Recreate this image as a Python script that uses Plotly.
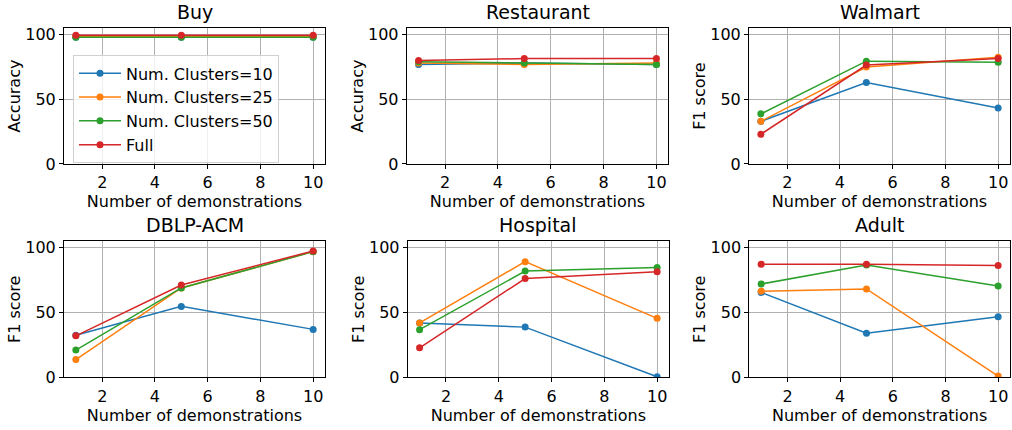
import plotly.graph_objects as go
from plotly.subplots import make_subplots

demos = [1, 5, 10]
series_names = ["Num. Clusters=10", "Num. Clusters=25", "Num. Clusters=50", "Full"]
colors = ["#1f77b4", "#ff7f0e", "#2ca02c", "#d62728"]

titles = ["Buy", "Restaurant", "Walmart", "DBLP-ACM", "Hospital", "Adult"]
ylabels = ["Accuracy", "Accuracy", "F1 score", "F1 score", "F1 score", "F1 score"]

buy = [[98, 98, 98], [98.5, 98.5, 98.5], [98, 98, 98], [99.5, 99.5, 99.5]]
restaurant = [[77, 78, 77], [78, 77, 78], [79, 78, 77], [80, 81.5, 81.5]]
walmart = [[33, 63, 43.25], [33, 75, 82.5], [38.75, 79.5, 78.75], [23, 76.5, 81.5]]
dblp = [[32.5, 54.75, 37], [13.75, 69, 97], [21, 69, 97], [32, 71.25, 97.5]]
hospital = [[42, 38.75, 0.5], [42, 89.25, 45.5], [36.75, 82, 84.75], [22.75, 76.25, 81.5]]
adult = [[65.5, 34, 46.75], [66.5, 68.25, 1], [72, 86.75, 70.5], [87.25, 87.25, 86.25]]
datasets = [buy, restaurant, walmart, dblp, hospital, adult]

W, H = 1012, 430
FONT = "DejaVu Sans"
FS = 16

fig = make_subplots(rows=2, cols=3)

# pixel boxes (left, right, top, bottom)
boxes = [
    (64, 325, 26, 166), (406.7, 668.3, 26, 166), (749, 1010, 26, 166),
    (64, 325, 245.7, 386), (407.7, 669, 245.7, 386), (749.3, 1010, 245.7, 386),
]

for i, data in enumerate(datasets):
    r, c = i // 3 + 1, i % 3 + 1
    for s in range(4):
        fig.add_trace(go.Scatter(
            x=demos, y=data[s], mode="lines+markers", name=series_names[s],
            line=dict(color=colors[s], width=1.5),
            marker=dict(color=colors[s], size=7),
            showlegend=(i == 0),
        ), row=r, col=c)

for i in range(6):
    l, rt, t, b = boxes[i]
    ax = "" if i == 0 else str(i + 1)
    axis_common = dict(
        showline=True, linecolor="black", linewidth=1, mirror=True,
        showgrid=True, gridcolor="#b0b0b0", gridwidth=1,
        ticks="outside", ticklen=4, tickcolor="black",
        tickfont=dict(family=FONT, size=FS, color="black"),
        zeroline=False,
    )
    fig.layout["xaxis" + ax].update(
        domain=[l / W, rt / W], range=[0.55, 10.45],
        tickvals=[2, 4, 6, 8, 10],
        title=dict(text="Number of demonstrations", font=dict(family=FONT, size=FS, color="black"), standoff=2),
        **axis_common,
    )
    fig.layout["yaxis" + ax].update(
        domain=[1 - b / H, 1 - t / H], range=[0, 105],
        tickvals=[0, 50, 100],
        title=dict(text=ylabels[i], font=dict(family=FONT, size=FS, color="black"), standoff=0),
        **axis_common,
    )
    fig.add_annotation(
        text=titles[i], xref="paper", yref="paper",
        x=(l + rt) / 2 / W, y=1 - (t - 3) / H, xanchor="center", yanchor="bottom",
        showarrow=False, font=dict(family=FONT, size=19, color="black"),
    )

fig.update_layout(
    width=W, height=H,
    margin=dict(l=0, r=0, t=0, b=0),
    paper_bgcolor="white", plot_bgcolor="white",
    font=dict(family=FONT, size=FS, color="black"),
    legend=dict(
        x=73 / W, y=1 - 54 / H, xanchor="left", yanchor="top",
        bgcolor="rgba(255,255,255,0.8)", bordercolor="#d0d0d0", borderwidth=1,
        font=dict(family=FONT, size=FS, color="black"),
        tracegroupgap=0, itemwidth=42,
    ),
)

fig.write_html(
    "out.html",
    config={"displayModeBar": False},
    post_script="document.body.style.margin='0';document.body.style.overflow='hidden';",
)
